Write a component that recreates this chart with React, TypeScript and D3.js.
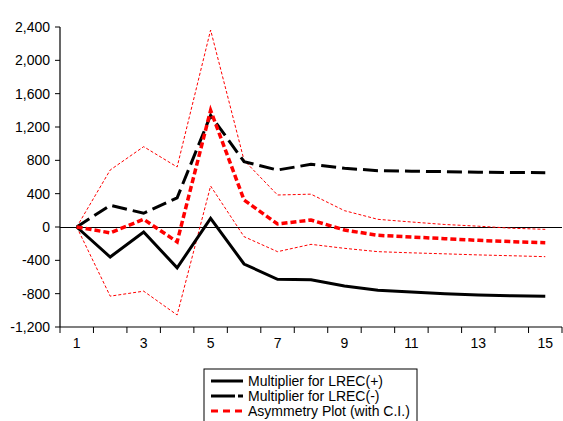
import React from "react";
import * as d3 from "d3";

const periods = [1, 2, 3, 4, 5, 6, 7, 8, 9, 10, 11, 12, 13, 14, 15];
const multPos = [0, -360, -60, -490, 104, -444, -628, -632, -708, -760, -780, -800, -815, -825, -830];
const multNeg = [0, 260, 165, 350, 1340, 784, 684, 752, 705, 676, 670, 664, 658, 654, 652];
const asym = [0, -70, 92, -178, 1400, 324, 36, 84, -36, -100, -120, -140, -160, -176, -188];
const upperCI = [0, 684, 964, 720, 2364, 800, 384, 394, 196, 92, 60, 30, 10, -15, -28];
const lowerCI = [0, -830, -770, -1056, 492, -116, -296, -208, -256, -296, -310, -322, -335, -345, -356];
const yTicks = [-1200, -800, -400, 0, 400, 800, 1200, 1600, 2000, 2400];
const legendItems = ["Multiplier for LREC(+)", "Multiplier for LREC(-)", "Asymmetry Plot (with C.I.)"];

export default function App() {
  const left = 60, right = 562, top = 27, bottom = 327;
  const x = d3.scaleBand<number>().domain(periods).range([left, right]);
  const cx = (p: number) => (x(p) as number) + x.bandwidth() / 2;
  const y = d3.scaleLinear().domain([-1200, 2400]).range([bottom, top]);
  const line = (vals: number[]) =>
    d3.line<number>().x((_, i) => cx(periods[i])).y((v) => y(v))(vals) as string;
  const font = "'Liberation Sans', Arial, sans-serif";
  const boundaries = periods.map((p) => x(p) as number).concat([right]);

  return (
    <svg width={563} height={421} style={{ position: "absolute", left: 0, top: 0 }} fontFamily={font}>
      <rect width={563} height={421} fill="#fff" />
      <line x1={left} x2={right} y1={y(0) + 0.5} y2={y(0) + 0.5} stroke="#000" strokeWidth={1} />
      <path d={line(upperCI)} fill="none" stroke="#ff0000" strokeWidth={1} strokeDasharray="3,2" />
      <path d={line(lowerCI)} fill="none" stroke="#ff0000" strokeWidth={1} strokeDasharray="3,2" />
      <path d={line(multPos)} fill="none" stroke="#000" strokeWidth={3} />
      <path d={line(multNeg)} fill="none" stroke="#000" strokeWidth={3} strokeDasharray="15,6" />
      <path d={line(asym)} fill="none" stroke="#ff0000" strokeWidth={3.5} strokeDasharray="6,3" />
      <line x1={left} x2={left} y1={top} y2={bottom} stroke="#000" strokeWidth={1.2} />
      <line x1={left} x2={right} y1={bottom} y2={bottom} stroke="#000" strokeWidth={1.2} />
      {yTicks.map((t) => (
        <g key={t}>
          <line x1={left - 5} x2={left} y1={y(t)} y2={y(t)} stroke="#000" />
          <text x={50} y={y(t)} dy="0.35em" textAnchor="end" fontSize={14} fill="#000">
            {d3.format(",")(t).replace("−", "-")}
          </text>
        </g>
      ))}
      {boundaries.map((b, i) => (
        <line key={i} x1={b} x2={b} y1={bottom} y2={bottom + 6} stroke="#000" />
      ))}
      {periods.filter((p) => p % 2 === 1).map((p) => (
        <text key={p} x={cx(p)} y={348} textAnchor="middle" fontSize={14} fill="#000">
          {p}
        </text>
      ))}
      <rect x={204} y={369} width={213} height={60} fill="#fff" stroke="#000" strokeWidth={1} />
      <line x1={211} x2={243} y1={381} y2={381} stroke="#000" strokeWidth={3} />
      <line x1={211} x2={243} y1={396} y2={396} stroke="#000" strokeWidth={3} strokeDasharray="24,3,5,3" />
      <line x1={211} x2={243} y1={411} y2={411} stroke="#ff0000" strokeWidth={3} strokeDasharray="7,5" />
      {legendItems.map((t, i) => (
        <text key={t} x={248} y={381 + i * 15} dy="0.35em" fontSize={14} fill="#000">
          {t}
        </text>
      ))}
    </svg>
  );
}
